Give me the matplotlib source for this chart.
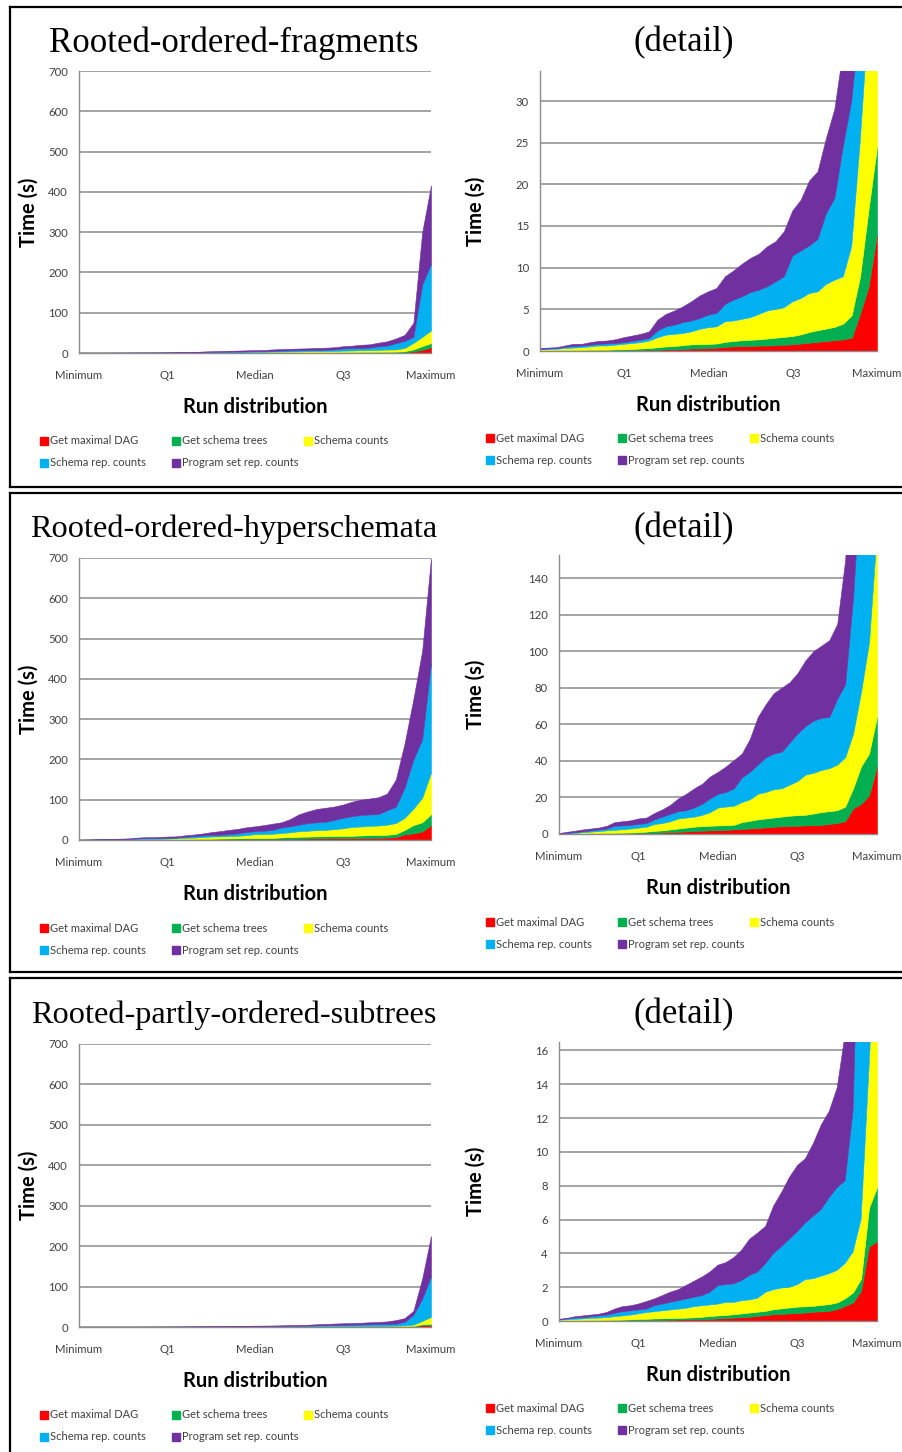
import numpy as np
import matplotlib.pyplot as plt
from matplotlib.lines import Line2D
from matplotlib.patches import Rectangle

plt.rcParams['font.family'] = ['Lato', 'DejaVu Sans']

W, H = 903, 1452

runs = np.arange(41)
tick_pos = [0, 10, 20, 30, 40]
tick_labels = ['Minimum', 'Q1', 'Median', 'Q3', 'Maximum']
series_names = ['Get maximal DAG', 'Get schema trees', 'Schema counts',
                'Schema rep. counts', 'Program set rep. counts']
series_colors = ['#FF0000', '#00B050', '#FFFF00', '#00B0F0', '#7030A0']

# top of each stacked layer (cumulative seconds)
frag_dag = [0.02, 0.02, 0.02, 0.03, 0.03, 0.03, 0.04, 0.05, 0.05, 0.06,
            0.08, 0.1, 0.12, 0.15, 0.15, 0.2, 0.2, 0.25, 0.3, 0.3,
            0.35, 0.4, 0.5, 0.55, 0.6, 0.6, 0.65, 0.65, 0.7, 0.75,
            0.8, 0.9, 1.0, 1.1, 1.2, 1.3, 1.4, 1.6, 4.5, 7.7, 14.0]
frag_trees = [0.08, 0.08, 0.08, 0.1, 0.1, 0.1, 0.15, 0.15, 0.15, 0.2,
              0.2, 0.25, 0.3, 0.35, 0.45, 0.55, 0.6, 0.7, 0.8, 0.8,
              0.85, 0.9, 1.1, 1.2, 1.3, 1.35, 1.4, 1.5, 1.6, 1.7,
              1.8, 2.0, 2.3, 2.5, 2.7, 2.9, 3.3, 4.3, 9.0, 17.0, 24.5]
frag_counts = [0.15, 0.2, 0.2, 0.3, 0.35, 0.4, 0.5, 0.6, 0.6, 0.7,
               0.8, 0.9, 1.0, 1.2, 1.6, 1.9, 2.0, 2.1, 2.3, 2.6,
               2.8, 2.9, 3.5, 3.6, 3.8, 4.0, 4.4, 4.8, 5.0, 5.2,
               5.9, 6.3, 6.9, 7.1, 8.0, 8.5, 8.9, 12.5, 25.0, 40.0, 56.0]
frag_rep = [0.2, 0.25, 0.3, 0.45, 0.55, 0.6, 0.7, 0.8, 0.85, 0.9,
            1.0, 1.15, 1.3, 1.5, 2.4, 2.9, 3.1, 3.4, 3.6, 3.9,
            4.3, 4.5, 5.6, 6.1, 6.5, 7.0, 7.3, 7.7, 8.3, 8.9,
            11.4, 12.0, 12.6, 13.4, 16.5, 18.3, 24.5, 30.0, 40.0, 170.0, 221.0]
frag_prog = [0.3, 0.35, 0.4, 0.6, 0.8, 0.8, 1.0, 1.15, 1.2, 1.35,
             1.6, 1.8, 2.0, 2.3, 3.7, 4.4, 4.8, 5.3, 5.9, 6.6,
             7.1, 7.5, 8.9, 9.6, 10.4, 11.1, 11.6, 12.5, 13.1, 14.3,
             16.8, 18.1, 20.4, 21.5, 25.5, 29.0, 36.0, 45.0, 75.0, 300.0, 416.0]

hyper_dag = [0.0, 0.0, 0.05, 0.05, 0.1, 0.1, 0.15, 0.2, 0.25, 0.3,
             0.4, 0.5, 0.6, 0.8, 1.0, 1.2, 1.4, 1.6, 1.8, 2.0,
             2.1, 2.3, 2.5, 2.8, 3.0, 3.3, 3.6, 4.0, 4.2, 4.4,
             4.5, 4.7, 4.8, 5.0, 5.5, 6.0, 7.0, 14.0, 16.5, 21.0, 37.0]
hyper_trees = [0.1, 0.15, 0.2, 0.3, 0.35, 0.4, 0.5, 0.6, 0.7, 0.8,
               1.0, 1.3, 1.7, 2.0, 2.5, 3.0, 3.5, 4.0, 4.3, 4.5,
               4.7, 4.8, 5.0, 6.5, 7.2, 8.0, 8.5, 9.0, 9.5, 10.0,
               10.3, 10.5, 11.2, 12.0, 12.5, 13.0, 15.0, 25.0, 37.0, 44.0, 64.0]
hyper_counts = [0.2, 0.4, 0.6, 1.0, 1.3, 1.6, 2.0, 2.3, 2.6, 3.0,
                3.5, 4.0, 5.5, 6.0, 7.0, 8.5, 9.0, 9.5, 10.5, 12.0,
                14.5, 15.0, 15.5, 17.5, 19.0, 22.0, 23.0, 24.5, 25.0, 27.0,
                29.0, 32.5, 33.5, 35.0, 36.0, 38.0, 42.0, 55.0, 78.0, 105.0, 167.0]
hyper_rep = [0.3, 0.6, 1.0, 1.5, 2.0, 2.5, 3.0, 4.5, 4.7, 5.0,
             5.5, 6.0, 8.0, 9.5, 11.0, 12.5, 13.0, 14.5, 16.5, 19.5,
             22.0, 23.0, 25.0, 31.0, 34.0, 38.0, 42.0, 44.0, 45.0, 50.0,
             55.0, 59.0, 62.0, 63.5, 64.0, 74.0, 82.0, 130.0, 200.0, 250.0, 440.0]
hyper_prog = [0.5, 1.2, 1.8, 2.5, 3.0, 3.5, 4.5, 6.5, 7.0, 7.5,
              8.5, 9.0, 11.5, 13.5, 16.0, 19.5, 22.0, 25.0, 27.5, 31.5,
              34.0, 37.0, 40.5, 44.0, 52.0, 64.0, 71.0, 77.0, 80.0, 83.0,
              88.0, 95.0, 100.0, 103.0, 106.0, 115.0, 150.0, 240.0, 350.0, 470.0, 700.0]

sub_dag = [0.0, 0.0, 0.0, 0.01, 0.01, 0.01, 0.02, 0.02, 0.03, 0.04,
           0.05, 0.05, 0.06, 0.07, 0.08, 0.09, 0.1, 0.11, 0.12, 0.13,
           0.15, 0.17, 0.2, 0.22, 0.25, 0.3, 0.35, 0.4, 0.42, 0.45,
           0.48, 0.5, 0.55, 0.57, 0.6, 0.7, 0.9, 1.1, 1.8, 4.4, 4.7]
sub_trees = [0.02, 0.03, 0.03, 0.04, 0.05, 0.05, 0.06, 0.07, 0.08, 0.1,
             0.12, 0.13, 0.15, 0.16, 0.17, 0.18, 0.2, 0.22, 0.25, 0.3,
             0.33, 0.36, 0.4, 0.45, 0.5, 0.55, 0.6, 0.7, 0.75, 0.8,
             0.85, 0.87, 0.9, 0.95, 1.0, 1.1, 1.35, 1.7, 2.5, 6.7, 7.9]
sub_counts = [0.05, 0.07, 0.1, 0.12, 0.15, 0.17, 0.2, 0.25, 0.3, 0.35,
              0.42, 0.5, 0.55, 0.6, 0.65, 0.7, 0.75, 0.85, 0.9, 0.95,
              1.0, 1.1, 1.1, 1.2, 1.25, 1.35, 1.7, 1.85, 1.95, 2.0,
              2.15, 2.45, 2.5, 2.65, 2.8, 3.0, 3.4, 4.1, 6.0, 15.0, 25.0]
sub_rep = [0.08, 0.12, 0.18, 0.2, 0.25, 0.3, 0.35, 0.45, 0.55, 0.6,
           0.65, 0.7, 0.9, 1.0, 1.1, 1.2, 1.3, 1.4, 1.5, 1.7,
           2.1, 2.15, 2.2, 2.4, 2.7, 2.9, 3.4, 4.0, 4.4, 4.85,
           5.3, 5.8, 6.2, 6.6, 7.3, 7.9, 8.3, 12.5, 30.0, 70.0, 125.0]
sub_prog = [0.1, 0.15, 0.25, 0.3, 0.35, 0.4, 0.5, 0.7, 0.85, 0.9,
            1.0, 1.15, 1.3, 1.5, 1.7, 1.85, 2.1, 2.35, 2.6, 2.9,
            3.3, 3.45, 3.75, 4.2, 4.85, 5.2, 5.6, 6.8, 7.6, 8.5,
            9.2, 9.6, 10.5, 11.6, 12.4, 13.8, 17.0, 22.0, 40.0, 120.0, 225.0]

rows = [
    ('Rooted-ordered-fragments', [frag_dag, frag_trees, frag_counts, frag_rep, frag_prog],
     33.6, np.arange(0, 31, 5)),
    ('Rooted-ordered-hyperschemata', [hyper_dag, hyper_trees, hyper_counts, hyper_rep, hyper_prog],
     152.6, np.arange(0, 141, 20)),
    ('Rooted-partly-ordered-subtrees', [sub_dag, sub_trees, sub_counts, sub_rep, sub_prog],
     16.5, np.arange(0, 17, 2)),
]

# pixel layout of each row
layout = [
    dict(left=(79, 71, 431, 353), right=(540, 71, 877, 351), title_y=43, title_fs=25,
         leg_l=441, leg_r=438),
    dict(left=(79, 558, 431, 840), right=(559, 555, 877, 834), title_y=529, title_fs=23.2,
         leg_l=928, leg_r=922),
    dict(left=(79, 1044, 431, 1327), right=(559, 1042, 877, 1321), title_y=1015, title_fs=23.2,
         leg_l=1415, leg_r=1408),
]

fig = plt.figure(figsize=(W / 100, H / 100), dpi=100)


def fx(x):
    return x / W


def fy(y):
    return 1 - y / H


def add_ax(box):
    x0, y0, x1, y1 = box
    return fig.add_axes([fx(x0), fy(y1), (x1 - x0) / W, (y1 - y0) / H])


def draw_area(ax, tops, ymax, yticks):
    prev = np.zeros(len(runs))
    for top, c in zip(tops, series_colors):
        top = np.array(top)
        ax.fill_between(runs, prev, top, color=c, ec=c, lw=0.4)
        prev = top
    ax.set_xlim(0, 40)
    ax.set_ylim(0, ymax)
    ax.set_yticks(yticks)
    ax.set_xticks(tick_pos)
    ax.set_xticklabels(tick_labels)
    ax.set_axisbelow(True)
    ax.yaxis.grid(True, color='#8c8c8c', lw=1.1)
    for s in ['top', 'right']:
        ax.spines[s].set_visible(False)
    for s in ['left', 'bottom']:
        ax.spines[s].set_color('#8c8c8c')
        ax.spines[s].set_linewidth(1.0)
    ax.tick_params(axis='both', length=0, labelsize=8.2, colors='#404040')
    ax.tick_params(axis='x', pad=12)
    ax.tick_params(axis='y', pad=8)
    ax.set_xlabel('Run distribution', fontsize=14.5, fontweight='bold', labelpad=12)
    ax.set_ylabel('Time (s)', fontsize=14.5, fontweight='bold')


def draw_legend(x_first, y_row):
    col_dx = [0, 132, 264]
    for k, (name, c) in enumerate(zip(series_names, series_colors)):
        x = x_first + col_dx[k % 3]
        y = y_row + 22 * (k // 3)
        fig.patches.append(Rectangle((fx(x), fy(y + 4)), 8 / W, 8 / H,
                                     transform=fig.transFigure, color=c))
        fig.text(fx(x + 10), fy(y), name, fontsize=8, color='#404040',
                 va='center', ha='left')


for (title, tops, dmax, dticks), lay in zip(rows, layout):
    axl = add_ax(lay['left'])
    draw_area(axl, tops, 700, np.arange(0, 701, 100))
    axl.yaxis.set_label_coords((39 - 79) / 352, 0.5)
    axr = add_ax(lay['right'])
    draw_area(axr, tops, dmax, dticks)
    x0r, x1r = lay['right'][0], lay['right'][2]
    axr.yaxis.set_label_coords((486 - x0r) / (x1r - x0r), 0.5)

    fig.text(fx(234), fy(lay['title_y']), title, family='Liberation Serif',
             fontsize=lay['title_fs'], ha='center', va='center')
    fig.text(fx(684), fy(lay['title_y']), '(detail)', family='Liberation Serif',
             fontsize=25, ha='center', va='center')
    draw_legend(40, lay['leg_l'])
    draw_legend(486, lay['leg_r'])

# frames around each row
frames = [(7, 487), (493, 972), (978, None)]
for top, bottom in frames:
    ybot = bottom if bottom is not None else H + 5
    fig.add_artist(Line2D([fx(10), fx(10)], [fy(top), fy(ybot)], color='black', lw=1.6))
    fig.add_artist(Line2D([fx(10), 1.01], [fy(top), fy(top)], color='black', lw=1.6))
    if bottom is not None:
        fig.add_artist(Line2D([fx(10), 1.01], [fy(bottom), fy(bottom)], color='black', lw=1.6))

fig.savefig('out.png', dpi=100)
